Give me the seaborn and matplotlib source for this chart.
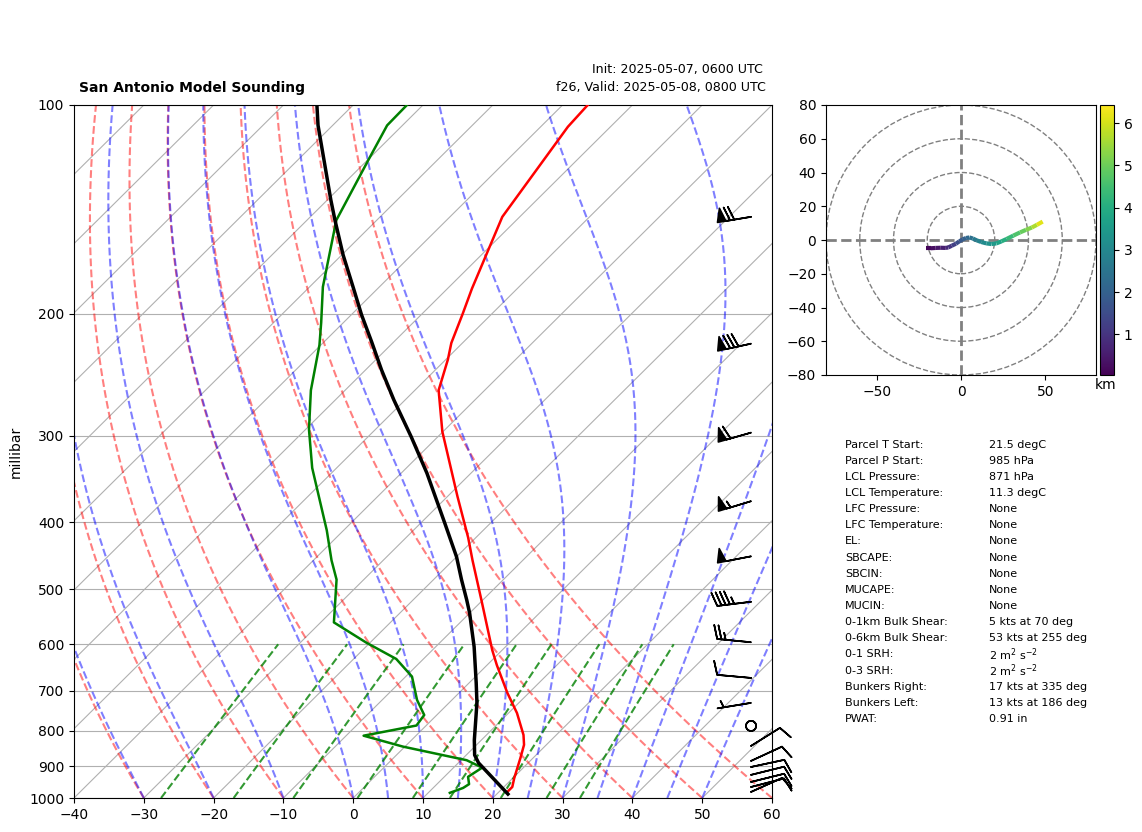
import numpy as np
import matplotlib
matplotlib.use("Agg")
import matplotlib.pyplot as plt
from matplotlib.collections import LineCollection
from matplotlib.colors import Normalize
from matplotlib.patches import Circle
import seaborn as sns

# --- sounding ---
temp_p = [100, 107.5, 145, 184, 200, 220.5, 233, 258, 296, 367, 421, 454, 518, 612, 643, 705, 754, 811, 838, 876, 936, 964, 980]
temp_c = [-66.4, -66.1, -62.5, -56.5, -54.2, -51.6, -49.7, -46.6, -40.1, -28.6, -21.1, -17.2, -10.2, -1.4, 1.4, 6.9, 11.2, 15.3, 16.8, 18.2, 20.2, 21.2, 21.2]
dew_p = [100, 107, 120, 146.6, 183, 206, 222, 258, 294, 334, 411, 454, 484, 558, 597, 630, 668, 722, 759, 786, 813, 843, 882, 904, 932, 955, 967, 983]
dew_c = [-92.3, -92.2, -89.9, -85.8, -78.1, -73.2, -70.2, -64.9, -59.5, -53.5, -42.4, -37.4, -33.9, -28.1, -20.5, -13.9, -9.1, -5, -1.8, -1.4, -7.5, -0.3, 10.8, 14.1, 13.4, 14.6, 14.3, 13.1]
parcel_p = [100, 107, 137.1, 146.6, 164.6, 183.9, 200.9, 219.6, 241.2, 266.5, 301.2, 339.9, 401.5, 448.7, 484, 518, 541, 605, 682, 729, 825, 867, 890, 987]
parcel_c = [-105.2, -102.1, -89.5, -86, -79.8, -73.5, -68.5, -63.2, -57.7, -51.6, -43.8, -36.3, -26.5, -20, -16, -12.3, -10, -4.5, 1, 4, 9, 11.2, 12.9, 21.6]

# --- wind barbs (knots) ---
barb_p = [145, 221, 297, 373, 448, 521, 596, 671, 729, 787, 841, 884, 902, 926, 948, 964, 980]
barb_u = [69, 78, 57.7, 52.6, 49, 44.7, 24.9, 10, 4.9, 0, -8.5, -9.1, -9.8, -9.7, -9.7, -9.7, -9.1]
barb_v = [11.5, 17, 16.5, 16, 9.5, 5.5, -2.4, -0.9, 0.8, 0, -5.3, -4.2, -2.1, -2.4, -2.4, -2.5, -4.1]

# --- hodograph ---
hodo_u = [-20.7, -18, -15, -12, -9, -7.5, -5.5, -3, -1, 1, 3, 5, 7, 9.3, 12, 15, 18, 21, 24, 27, 31, 35, 38.5, 42, 45, 48.4]
hodo_v = [-4.9, -4.9, -4.7, -4.6, -4.7, -4.4, -3.4, -2.2, -0.8, 0.4, 1.2, 1.5, 0.9, -0.2, -1.2, -2, -2.4, -2, -0.8, 0.6, 2.6, 4.5, 6, 7.4, 9, 10.9]
hodo_h = [0.05, 0.2, 0.35, 0.5, 0.7, 0.9, 1.1, 1.4, 1.7, 1.9, 2.1, 2.3, 2.5, 2.8, 3, 3.2, 3.4, 3.6, 3.9, 4.2, 4.5, 4.8, 5.1, 5.4, 5.9, 6.4]

# --- background families ---
isotherms = list(range(-140, 61, 10))
dry_t0 = list(range(-40, 61, 10))
moist_t0 = [-40, -30, -20, -10, 0, 5, 10, 15, 20, 25, 30, 35, 40, 45, 50]
mix_ratios = [0.0004, 0.001, 0.002, 0.004, 0.007, 0.01, 0.016, 0.024, 0.032]
pressure_ticks = [100, 200, 300, 400, 500, 600, 700, 800, 900, 1000]

table_labels = ["Parcel T Start:", "Parcel P Start:", "LCL Pressure:", "LCL Temperature:", "LFC Pressure:", "LFC Temperature:",
                "EL:", "SBCAPE:", "SBCIN:", "MUCAPE:", "MUCIN:", "0-1km Bulk Shear:", "0-6km Bulk Shear:", "0-1 SRH:", "0-3 SRH:",
                "Bunkers Right:", "Bunkers Left:", "PWAT:"]
table_values = ["21.5 degC", "985 hPa", "871 hPa", "11.3 degC", "None", "None", "None", "None", "None", "None", "None",
                "5 kts at 70 deg", "53 kts at 255 deg", "2 m$^{2}$ s$^{-2}$", "2 m$^{2}$ s$^{-2}$",
                "17 kts at 335 deg", "13 kts at 186 deg", "0.91 in"]

W, H = 1142, 832
fig = plt.figure(figsize=(W / 100, H / 100), dpi=100)


def box(l, t, r, b):
    return [l / W, 1 - b / H, (r - l) / W, (b - t) / H]


def skew(t, p):
    return np.asarray(t, float) + 100 * np.log10(1000 / np.asarray(p, float))


ax = fig.add_axes(box(74, 105, 772, 798))
ax.set_yscale("log")

pgrid = np.geomspace(1000, 100, 60)
for t in isotherms:
    ax.plot(skew([t, t], [1000, 100]), [1000, 100], color="#b0b0b0", lw=0.8, zorder=1)
for p in pressure_ticks:
    ax.axhline(p, color="#b0b0b0", lw=0.8, zorder=1)
for t0 in dry_t0:
    ax.plot(skew((t0 + 273.15) * (pgrid / 1000) ** 0.2857 - 273.15, pgrid), pgrid, color="r", ls="--", lw=1.5, alpha=0.5, zorder=2)


def moist_profile(t0):
    lnp = np.log(pgrid)
    out = [t0 + 273.15]
    for i in range(1, len(pgrid)):
        T = out[-1]
        sub = np.linspace(lnp[i - 1], lnp[i], 11)
        for k in range(10):
            es = 6.112 * np.exp(17.67 * (T - 273.15) / (T - 29.65))
            rs = 0.622 * es / (np.exp(sub[k]) - es)
            lv = 2.501e6
            dT = (287.05 * T + lv * rs) / (1005.0 + lv ** 2 * rs * 0.622 / (287.05 * T ** 2))
            T = T + dT * (sub[k + 1] - sub[k])
        out.append(T)
    return np.array(out) - 273.15


for t0 in moist_t0:
    ax.plot(skew(moist_profile(t0), pgrid), pgrid, color="b", ls="--", lw=1.5, alpha=0.5, zorder=2)

pmix = np.geomspace(1000, 600, 12)
for w in mix_ratios:
    e = pmix * w / (0.622 + w)
    lg = np.log(e / 6.112)
    td = 243.5 * lg / (17.67 - lg)
    ax.plot(skew(td, pmix), pmix, color="g", ls="--", lw=1.5, alpha=0.8, zorder=2)

sns.lineplot(x=skew(temp_c, temp_p), y=temp_p, sort=False, estimator=None, color="r", lw=1.8, ax=ax, zorder=4)
sns.lineplot(x=skew(dew_c, dew_p), y=dew_p, sort=False, estimator=None, color="g", lw=1.8, ax=ax, zorder=4)
sns.lineplot(x=skew(parcel_c, parcel_p), y=parcel_p, sort=False, estimator=None, color="k", lw=2.5, ax=ax, zorder=5)

ax.barbs(np.full(len(barb_p), 0.97), barb_p, barb_u, barb_v, transform=ax.get_yaxis_transform(),
         clip_on=False, length=7, linewidth=1.2, color="k", zorder=6)

ax.set_xlim(-40, 60)
ax.set_ylim(1000, 100)
ax.set_xticks(range(-40, 61, 10))
ax.set_yticks(pressure_ticks)
ax.set_yticklabels([str(p) for p in pressure_ticks])
ax.minorticks_off()
ax.tick_params(labelsize=10)
ax.set_xlabel("")
ax.set_ylabel("")
fig.text(16 / W, 1 - 452 / H, "millibar", rotation=90, ha="center", va="center", fontsize=10)
fig.text(79 / W, 1 - 88 / H, "San Antonio Model Sounding", fontsize=10, fontweight="bold", ha="left", va="center")
fig.text(762.5 / W, 1 - 70 / H, "Init: 2025-05-07, 0600 UTC", fontsize=9.05, ha="right", va="center")
fig.text(766 / W, 1 - 88 / H, "f26, Valid: 2025-05-08, 0800 UTC", fontsize=9.1, ha="right", va="center")

# hodograph
hx = fig.add_axes(box(826, 105, 1096, 375))
hx.set_xlim(-80, 80)
hx.set_ylim(-80, 80)
for r in [20, 40, 60, 80]:
    hx.add_patch(Circle((0, 0), r, fill=False, ec="gray", ls="--", lw=1, zorder=1))
hx.axhline(0, color="gray", ls="--", lw=2, zorder=2)
hx.axvline(0, color="gray", ls="--", lw=2, zorder=2)
pts = np.column_stack([hodo_u, hodo_v])
segs = np.stack([pts[:-1], pts[1:]], axis=1)
h = np.array(hodo_h)
lc = LineCollection(segs, cmap="viridis", norm=Normalize(0.04, 6.43), lw=3, zorder=3, capstyle="butt")
lc.set_array((h[:-1] + h[1:]) / 2)
hx.add_collection(lc)
hx.set_xticks([-50, 0, 50])
hx.set_yticks(range(-80, 81, 20))
hx.tick_params(labelsize=10)

cax = fig.add_axes(box(1100, 105, 1114, 375))
cb = fig.colorbar(lc, cax=cax)
cb.set_ticks([1, 2, 3, 4, 5, 6])
cb.ax.tick_params(labelsize=10)
fig.text(1106 / W, 1 - 384.5 / H, "km", ha="center", va="center", fontsize=10)

# parameter table
for i, (a, b) in enumerate(zip(table_labels, table_values)):
    y = 1 - (444.5 + i * 16.15) / H
    fig.text(845 / W, y, a, fontsize=8, ha="left", va="center")
    fig.text(989 / W, y, b, fontsize=8, ha="left", va="center")

fig.savefig("out.png", dpi=100)
